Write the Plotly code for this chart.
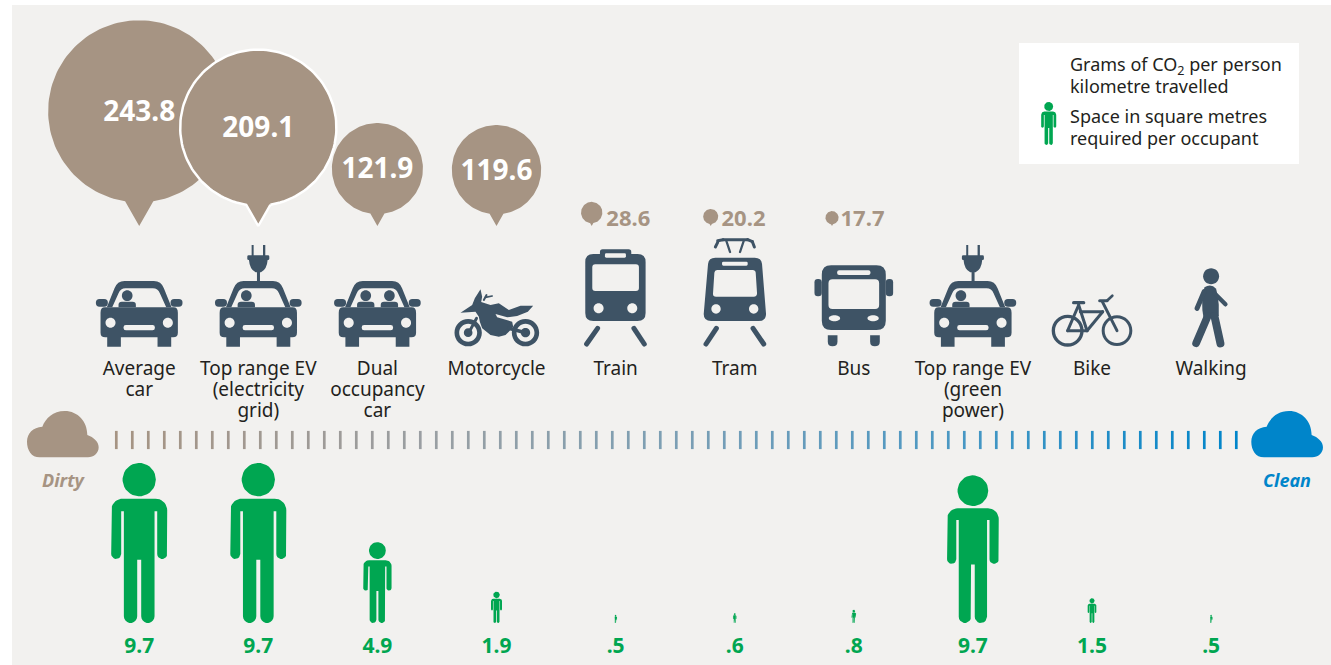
import re
import numpy as np
import plotly.graph_objects as go

W, H = 1331, 665
categories = ["Average<br>car", "Top range EV<br>(electricity<br>grid)", "Dual<br>occupancy<br>car", "Motorcycle",
              "Train", "Tram", "Bus", "Top range EV<br>(green<br>power)", "Bike", "Walking"]
co2_grams = [243.8, 209.1, 121.9, 119.6, 28.6, 20.2, 17.7]
space_m2 = [9.7, 9.7, 4.9, 1.9, 0.5, 0.6, 0.8, 9.7, 1.5, 0.5]
space_label = ["9.7", "9.7", "4.9", "1.9", ".5", ".6", ".8", "9.7", "1.5", ".5"]
# the figure drawn for the green-power EV is slightly smaller in the source artwork
space_drawn = [9.7, 9.7, 4.9, 1.9, 0.5, 0.6, 0.8, 8.95, 1.5, 0.5]
legend_lines = ["Grams of CO<sub>2</sub> per person", "kilometre travelled",
                "Space in square metres", "required per occupant"]

TAN, BLUE, GREEN, SLATE, INK, PANEL = "#a69483", "#0085ca", "#00a651", "#3e5365", "#231f20", "#f2f1ef"
FONT = "Noto Sans"
X0, DX = 139.2, 119.1
centers = [X0 + DX * i for i in range(len(categories))]

fig = go.Figure()
shapes = []


def place(path, cx, cy, ox=0, oy=0, s=1 / 3):
    """Map a local icon path (3x zoom units) to the axis coordinates."""
    toks = re.findall(r"[MLCQZ]|-?\d+\.?\d*", path)
    out, isx = [], True
    for t in toks:
        if t.isalpha():
            out.append(t)
            isx = True
        else:
            v = float(t)
            out.append(f"{cx + (v - ox) * s:.2f}" if isx else f"{cy + (v - oy) * s:.2f}")
            isx = not isx
    return " ".join(out)


def circ(x, y, r, ry=None):
    ry = r if ry is None else ry
    k = 0.5523
    return (f"M{x-r},{y} C{x-r},{y-k*ry} {x-k*r},{y-ry} {x},{y-ry} C{x+k*r},{y-ry} {x+r},{y-k*ry} {x+r},{y} "
            f"C{x+r},{y+k*ry} {x+k*r},{y+ry} {x},{y+ry} C{x-k*r},{y+ry} {x-r},{y+k*ry} {x-r},{y} Z ")


def rrect(x0, y0, x1, y1, r):
    return (f"M{x0+r},{y0} L{x1-r},{y0} Q{x1},{y0} {x1},{y0+r} L{x1},{y1-r} Q{x1},{y1} {x1-r},{y1} "
            f"L{x0+r},{y1} Q{x0},{y1} {x0},{y1-r} L{x0},{y0+r} Q{x0},{y0} {x0+r},{y0} Z ")


def capsule(x0, y0, x1, y1, w):
    dx, dy = x1 - x0, y1 - y0
    n = np.hypot(dx, dy)
    ux, uy = dx / n * w / 2, dy / n * w / 2
    px, py = -uy, ux
    return (f"M{x0+px:.1f},{y0+py:.1f} L{x1+px:.1f},{y1+py:.1f} "
            f"Q{x1+px+ux:.1f},{y1+py+uy:.1f} {x1+ux:.1f},{y1+uy:.1f} Q{x1-px+ux:.1f},{y1-py+uy:.1f} {x1-px:.1f},{y1-py:.1f} "
            f"L{x0-px:.1f},{y0-py:.1f} Q{x0-px-ux:.1f},{y0-py-uy:.1f} {x0-ux:.1f},{y0-uy:.1f} "
            f"Q{x0+px-ux:.1f},{y0+py-uy:.1f} {x0+px:.1f},{y0+py:.1f} Z ")


def add_icon(parts, cx, cy, ox, oy, color=SLATE):
    for p in parts:
        shapes.append(dict(type="path", xref="x", yref="y", layer="below", path=place(p, cx, cy, ox, oy),
                           fillcolor=color, line=dict(width=0)))


# ---- icons: local coordinates follow a 3x crop, origin at icon centre / fixed top
def car_parts(seats):
    parts = [
        # roof frame and window
        "M-97,232 L-74,175 Q-66,153 -44,153 L44,153 Q66,153 74,175 L97,232 Z "
        "M-81,232 L-62,190 Q-56,175 -41,175 L41,175 Q56,175 62,190 L81,232 Z",
        # body with lights and grille as holes
        "M-103,232 L103,232 Q116,232 116,248 L116,308 Q116,322 102,322 L96,322 L96,350 L55,350 L55,322 "
        "L-55,322 L-55,350 L-96,350 L-96,322 L-102,322 Q-116,322 -116,308 L-116,248 Q-116,232 -103,232 Z "
        + circ(-86, 278, 15) + circ(86, 278, 15) + rrect(-47, 285, 47, 301, 7),
        rrect(-130, 207, -94, 230, 11), rrect(94, 207, 130, 230, 11),
    ]
    for sx in seats:
        parts.append(circ(sx, 197, 16))
        parts.append(f"M{sx-26},232 L{sx-26},224 Q{sx-26},215 {sx-16},215 L{sx+16},215 Q{sx+26},215 {sx+26},224 L{sx+26},232 Z")
    return parts


PLUG = ["M-20,45 L-14,45 L-14,78 L-20,78 Z", "M14,45 L21,45 L21,78 L14,78 Z", rrect(-33, 76, 33, 90, 4),
        "M-28,90 L28,90 Q26,118 8,127 L5,127 L5,155 L-4,155 L-4,127 L-8,127 Q-26,118 -28,90 Z"]

MOTO = [
    circ(83, 428, 41) + circ(83, 428, 27) + circ(83, 428, 13),
    circ(255, 428, 41) + circ(255, 428, 27) + circ(255, 428, 14),
    "M60,368 L95,345 L103,325 L120,298 L125,320 L122,336 L150,345 L175,340 L205,360 L240,347 L278,347 L262,365 "
    "L230,378 L200,382 L165,372 L170,382 L215,395 L218,410 L205,425 L195,435 L175,440 L150,435 L125,415 L118,395 "
    "L115,380 L105,365 Z",
    capsule(108, 385, 85, 428, 9), capsule(205, 415, 255, 428, 11), capsule(130, 330, 138, 315, 6),
    capsule(135, 322, 155, 318, 5),
]
TRAIN = [
    rrect(480, 178, 574, 200, 8) ,
    rrect(436, 192, 617, 393, 24) + rrect(457, 223, 597, 303, 9) + circ(476, 355, 15) + circ(577, 355, 15),
    capsule(473, 415, 440, 462, 15), capsule(582, 415, 613, 462, 15),
]
TRAIN_SLIT = rrect(495, 190, 558, 203, 4)
TRAM = [
    "M825,203 L943,203 Q963,203 965,222 L977,372 Q977,393 955,393 L812,393 Q790,393 790,372 L803,222 Q805,203 825,203 Z "
    "M830,240 L937,240 Q945,240 946,248 L950,310 Q950,320 940,320 L827,320 Q817,320 818,310 L822,248 Q823,240 830,240 Z "
    + circ(827, 357, 14) + circ(940, 357, 14) + rrect(845, 215, 922, 227, 4),
    capsule(828, 415, 797, 462, 15), capsule(938, 415, 970, 462, 15),
    capsule(825, 171, 832, 157, 9), capsule(832, 152, 848, 149, 9), capsule(848, 149, 922, 149, 9),
    capsule(922, 149, 936, 155, 9), capsule(936, 155, 942, 171, 9),
    capsule(858, 153, 869, 186, 7), capsule(910, 153, 899, 186, 7),
]
BUS = [
    rrect(1146, 226, 1338, 420, 28) + rrect(1166, 268, 1318, 357, 12) + rrect(1192, 241, 1292, 255, 6)
    + circ(1184, 385, 17, 9) + circ(1300, 385, 17, 9),
    rrect(1124, 267, 1146, 319, 10), rrect(1338, 267, 1360, 319, 10),
    "M1164,436 L1193,436 L1193,455 Q1193,469 1178,469 Q1164,469 1164,455 Z",
    "M1291,436 L1320,436 L1320,455 Q1320,469 1305,469 Q1291,469 1291,455 Z",
]
BIKE = [
    circ(472, 302, 48) + circ(472, 302, 38), circ(620, 302, 46) + circ(620, 302, 37),
    capsule(472, 302, 505, 225, 9), capsule(472, 302, 530, 302, 9), capsule(505, 225, 530, 302, 9),
    capsule(510, 245, 577, 245, 9), capsule(577, 245, 530, 302, 9), capsule(576, 215, 620, 302, 9),
    capsule(490, 218, 520, 218, 10), capsule(568, 212, 590, 212, 9), capsule(590, 212, 606, 197, 8),
]
WALK = [
    circ(905, 139, 24),
    "M885,172 Q905,160 920,176 Q927,200 928,225 L928,258 L882,262 Q873,215 885,172 Z",
    capsule(884, 185, 863, 235, 15), capsule(915, 190, 948, 223, 13),
    capsule(895, 258, 860, 340, 23), capsule(915, 258, 933, 340, 24),
]
CLOUD = ("M60,172 C35,172 22,150 22,125 C22,100 40,82 68,80 C78,55 100,33 135,33 C175,33 203,65 203,105 "
         "C222,112 237,125 237,142 C237,160 222,172 205,172 Z")

# panel and legend box
shapes.append(dict(type="rect", xref="x", yref="y", layer="below", x0=12, x1=W, y0=5, y1=H, fillcolor=PANEL, line=dict(width=0)))
shapes.append(dict(type="rect", xref="x", yref="y", layer="below", x0=1019, x1=1299, y0=43, y1=164, fillcolor="white", line=dict(width=0)))

add_icon(car_parts([-36]), centers[0], 230, 0, 0)
add_icon(car_parts([-36]), centers[1], 230, 0, 0)
add_icon(PLUG, centers[1], 230, 0, 0)
add_icon(car_parts([-35, 36]), centers[2], 230, 0, 0)
add_icon(MOTO, centers[3], 190, 168, 0)
add_icon(TRAIN, centers[4], 190, 527, 0)
add_icon([TRAIN_SLIT], centers[4], 190, 527, 0, PANEL)
add_icon(TRAM, centers[5], 190, 883, 0)
add_icon(BUS, centers[6], 190, 1242, 0)
add_icon(car_parts([-36]), centers[7], 230, 0, 0)
add_icon(PLUG, centers[7], 230, 0, 0)
add_icon(BIKE, centers[8], 230, 545, 0)
add_icon(WALK, centers[9], 230, 905, 0)
add_icon([CLOUD], 27, 411, 22, 33, TAN)
add_icon([CLOUD], 1251.3, 411, 22, 33, BLUE)


def arc(cx, cy, r, a0, a1, n=10):
    t = np.radians(np.linspace(a0, a1, n))
    return list(cx + r * np.cos(t)), list(cy + r * np.sin(t))


def person_xy(cx, bottom, drawn):
    h = 16.5 * drawn
    s = h / 480
    xs, ys = [], []

    def add(a, b):
        xs.extend(a)
        ys.extend(b)

    add(*arc(0, -430, 50, 0, 360, 36))
    xs.append(None)
    ys.append(None)
    add(*arc(49, -338, 35, -90, 0))
    add(*arc(69, -207, 15, 0, 180))
    add([54, 46], [-335, -335])
    add(*arc(26, -20, 20, 0, 180))
    add([6, -6], [-190, -190])
    add(*arc(-26, -20, 20, 0, 180))
    add([-46, -54], [-335, -335])
    add(*arc(-69, -207, 15, 0, 180))
    add(*arc(-49, -338, 35, 180, 270))
    out_x = [None if v is None else cx + v * s for v in xs]
    out_y = [None if v is None else bottom + v * s for v in ys]
    return out_x, out_y


def bubble_xy(cx, value, tip_y):
    r = 0.3735 * value
    tip = 0.26 * r
    cy = tip_y - r - tip
    w = 0.155 * r
    a = np.degrees(np.arcsin(w / r))
    t = np.radians(np.linspace(90 - a, -270 + a, 140))
    xs = list(cx + r * np.cos(t)) + [cx, cx + w]
    ys = list(cy + r * np.sin(t)) + [tip_y, cy + r * np.cos(np.radians(a))]
    return xs, ys, cy


def text_trace(x, y, txt, size, color, bold=False, italic=False):
    fig.add_trace(go.Scatter(
        x=[x], y=[y + 0.1 * size], mode="text", text=[txt], textposition="middle center", hoverinfo="skip",
        textfont=dict(family=FONT, size=size, color=color, weight=700 if bold else 400,
                      style="italic" if italic else "normal"), showlegend=False))


# CO2 bubbles: the second one overlaps the others and carries a white outline
bubble_x = [centers[0], centers[1], centers[2], centers[3], 591.7, 710.7, 832]
bubble_tip = [226] * 7
order = [0, 2, 3, 4, 5, 6, 1]
for i in order:
    xs, ys, cy = bubble_xy(bubble_x[i], co2_grams[i], bubble_tip[i])
    fig.add_trace(go.Scatter(x=xs, y=ys, mode="lines", fill="toself", fillcolor=TAN, hoverinfo="skip",
                             line=dict(color="white" if i == 1 else TAN, width=2.5 if i == 1 else 0), showlegend=False))
    if i < 4:
        text_trace(bubble_x[i], cy, f"{co2_grams[i]}", 28, "white", bold=True)
    else:
        text_trace(bubble_x[i] + [36.6, 32.8, 30.5][i - 4], 218, f"{co2_grams[i]}", 22, TAN, bold=True)

# dirty-to-clean ticks
tick_x = [116.3 + 16 * i for i in range(71)]
stops_t = [0, 0.28, 0.5, 0.75, 1]
stops_r = [0xa6, 0x9a, 0x7c, 0x4a, 0x00]
stops_g = [0x94, 0x9f, 0x9f, 0x98, 0x85]
stops_b = [0x83, 0xa3, 0xb5, 0xc4, 0xca]
tick_c = [f"rgb({int(np.interp(i/70, stops_t, stops_r))},{int(np.interp(i/70, stops_t, stops_g))},{int(np.interp(i/70, stops_t, stops_b))})"
          for i in range(71)]
fig.add_trace(go.Scatter(x=tick_x, y=[440] * 71, mode="markers", hoverinfo="skip", showlegend=False,
                         marker=dict(symbol="line-ns", size=13, line=dict(width=2.7, color=tick_c), color=tick_c)))

# space figures
for i, c in enumerate(centers):
    xs, ys = person_xy(c, 623, space_drawn[i])
    fig.add_trace(go.Scatter(x=xs, y=ys, mode="lines", fill="toself", fillcolor=GREEN, hoverinfo="skip",
                             line=dict(width=0, color=GREEN), showlegend=False))
    text_trace(c, 645.5, space_label[i], 21, GREEN, bold=True)

# category labels
for c, lab in zip(centers, categories):
    for j, line in enumerate(lab.split("<br>")):
        text_trace(c, 368 + 21.3 * j, line, 19, INK)

text_trace(63, 481, "Dirty", 18, TAN, bold=True, italic=True)
text_trace(1287, 481, "Clean", 18, BLUE, bold=True, italic=True)

# legend
for y, line in zip([65, 87, 117, 139], legend_lines):
    fig.add_trace(go.Scatter(x=[1070], y=[y + 1.8], mode="text", text=[line], textposition="middle right", hoverinfo="skip",
                             textfont=dict(family=FONT, size=18, color=INK), showlegend=False))
xs, ys = person_xy(1048.7, 145, 43 / 16.5)
fig.add_trace(go.Scatter(x=xs, y=ys, mode="lines", fill="toself", fillcolor=GREEN, hoverinfo="skip",
                         line=dict(width=0, color=GREEN), showlegend=False))

fig.update_layout(
    width=W, height=H, margin=dict(l=0, r=0, t=0, b=0), paper_bgcolor="white", plot_bgcolor="white",
    showlegend=False, shapes=shapes,
    xaxis=dict(range=[0, W], visible=False, fixedrange=True),
    yaxis=dict(range=[H, 0], visible=False, fixedrange=True),
)
fig.write_html("out.html", config=dict(displayModeBar=False),
               post_script="document.body.style.margin='0';document.documentElement.style.overflow='hidden';")
